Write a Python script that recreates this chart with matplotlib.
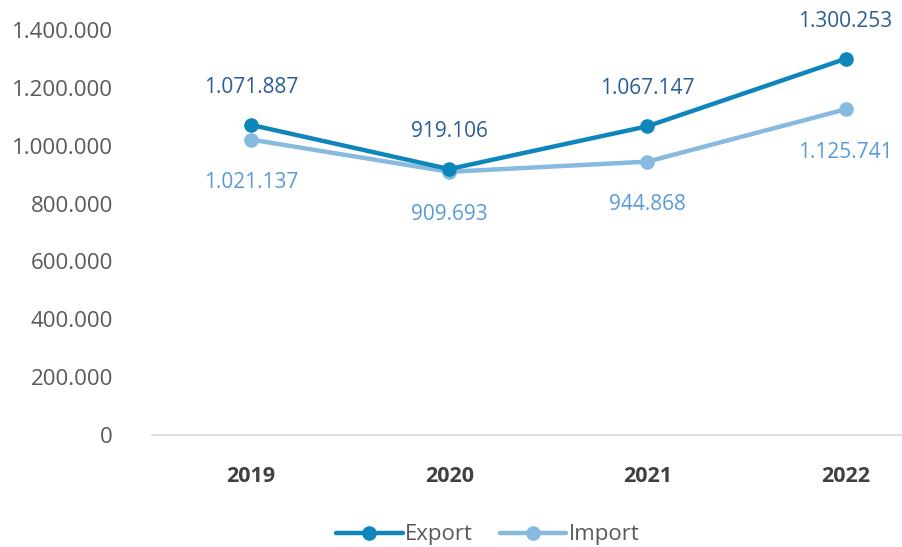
import matplotlib.pyplot as plt
from matplotlib.ticker import FuncFormatter

years = ["2019", "2020", "2021", "2022"]
export = [1071887, 919106, 1067147, 1300253]
imports = [1021137, 909693, 944868, 1125741]

c_exp = "#0E86BB"
c_imp = "#86BADF"
c_exp_lbl = "#2A5D96"
c_imp_lbl = "#5B9BD5"

plt.rcParams["font.family"] = ["Open Sans", "DejaVu Sans"]


def fmt(v):
    return f"{int(v):,}".replace(",", ".")


fig = plt.figure(figsize=(9.03, 5.47), dpi=100)
ax = fig.add_axes([0.1683, 0.2048, 0.8317, 0.7404])

x = list(range(len(years)))
ax.plot(x, export, color=c_exp, lw=3.2, marker="o", ms=9.5, label="Export",
        solid_capstyle="round", zorder=3)
ax.plot(x, imports, color=c_imp, lw=3.2, marker="o", ms=9.5, label="Import",
        solid_capstyle="round", zorder=2)

for i, v in enumerate(export):
    ax.annotate(fmt(v), (i, v), xytext=(0, 27), textcoords="offset points",
                ha="center", va="center", fontsize=15, color=c_exp_lbl,
                annotation_clip=False)
for i, v in enumerate(imports):
    ax.annotate(fmt(v), (i, v), xytext=(0, -31), textcoords="offset points",
                ha="center", va="center", fontsize=15, color=c_imp_lbl,
                annotation_clip=False)

ax.set_ylim(0, 1400000)
ax.set_xlim(-0.5, 3.29)
ax.set_yticks(range(0, 1400001, 200000))
ax.yaxis.set_major_formatter(FuncFormatter(lambda v, p: fmt(v)))
ax.set_xticks(x)
ax.set_xticklabels(years, fontweight="bold")
ax.tick_params(axis="y", length=0, labelsize=16, labelcolor="#595959", pad=28)
ax.tick_params(axis="x", length=0, labelsize=15.5, labelcolor="#404040", pad=22)

for s in ["top", "right", "left"]:
    ax.spines[s].set_visible(False)
ax.spines["bottom"].set_color("#D9D9D9")
ax.spines["bottom"].set_linewidth(1.2)

fig.legend(loc="center", bbox_to_anchor=(0.54, 0.022), ncol=2, frameon=False,
           fontsize=16, labelcolor="#595959", handlelength=3.0,
           handletextpad=0.1, columnspacing=1.2)

fig.savefig("out.png", dpi=100)
